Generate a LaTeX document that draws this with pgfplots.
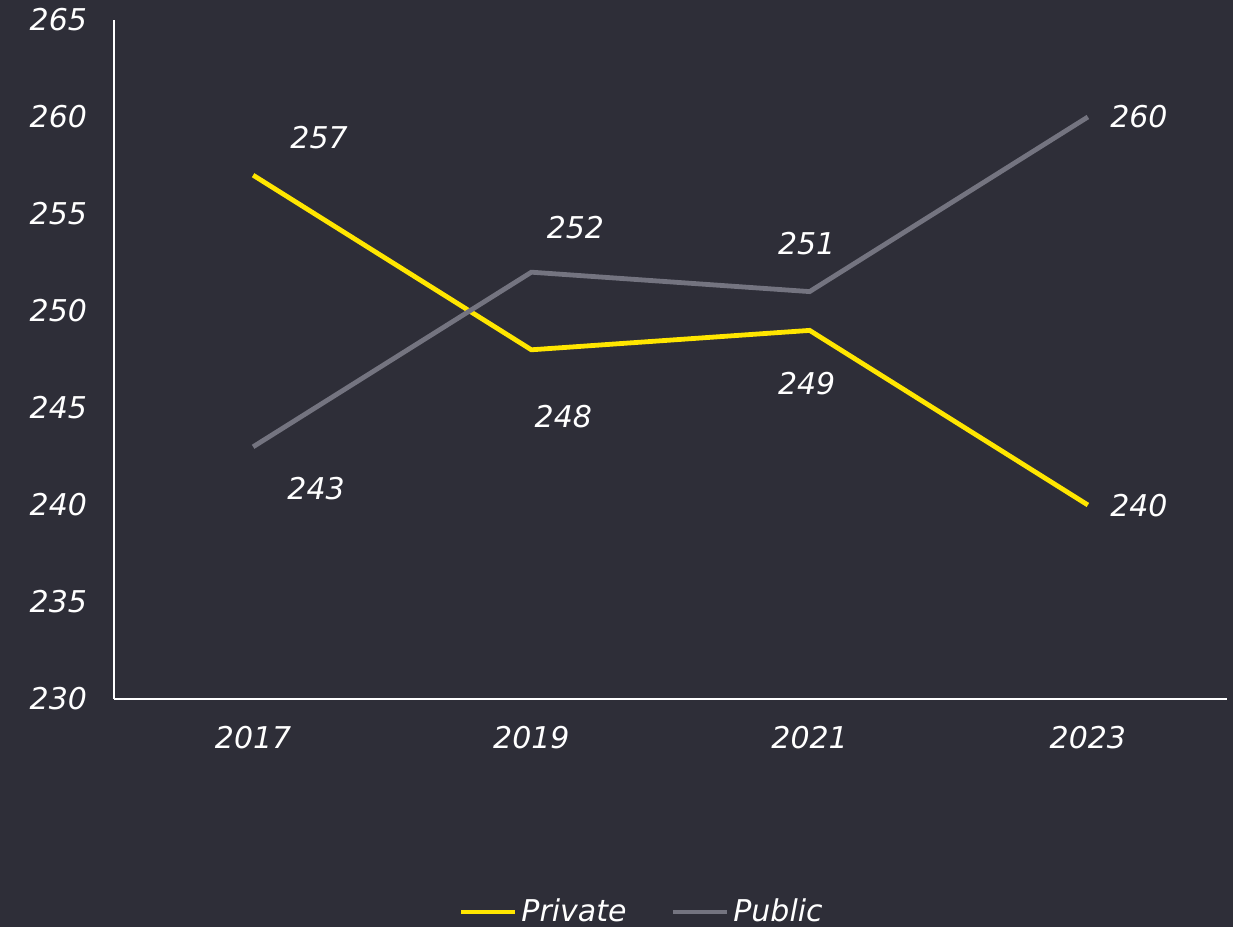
\documentclass[border=0pt]{standalone}
\usepackage{fontspec}
\setmainfont{DejaVu Sans}
\usepackage{pgfplots}
\pgfplotsset{compat=1.18}
\usetikzlibrary{calc,backgrounds}

\definecolor{bgcol}{HTML}{2E2E38}
\definecolor{eyyellow}{HTML}{FFE600}
\definecolor{eygray}{HTML}{747480}

\begin{document}
\begin{tikzpicture}[font=\fontsize{15}{17}\selectfont\itshape]
\begin{axis}[
    name=ax,
    width=556.5pt, height=339.5pt,
    scale only axis,
    xmin=-0.5, xmax=3.5,
    ymin=230, ymax=265,
    xtick={0,1,2,3},
    xticklabels={2017,2019,2021,2023},
    ytick={230,235,...,265},
    axis x line*=bottom,
    axis y line*=left,
    axis line style={white, line width=0.6pt, -},
    major tick style={draw=none},
    tick label style={text=white, font=\fontsize{15}{17}\selectfont\itshape},
    /pgf/number format/assume math mode=true,
    yticklabel style={xshift=-10pt},
    xticklabel style={yshift=-10pt},
    clip=false,
    legend columns=2,
    legend style={
        at={(0.475,-0.3137)}, anchor=center,
        draw=none, fill=none,
        text=white,
        font=\fontsize{15}{17}\selectfont\itshape,
        /tikz/every even column/.append style={column sep=20pt},
    },
    legend image code/.code={
        \draw[#1, line width=2.4pt] (0pt,0pt) -- (27pt,0pt);
    },
    nodes near coords,
    point meta=explicit symbolic,
    visualization depends on={\thisrow{dx} \as \dx},
    visualization depends on={\thisrow{dy} \as \dy},
    every node near coord/.append style={
        anchor=center, text=white, xshift=\dx pt, yshift=\dy pt,
        font=\fontsize{15}{17}\selectfont\itshape,
    },
]
\addplot[eyyellow, line width=2.4pt] table[x=x, y=y, meta=lab] {
x y lab dx dy
0 257 257 33 19
1 248 248 16 -33.5
2 249 249 -1.5 -26.5
3 240 240 25.5 -0.5
};
\addlegendentry{Private}
\addplot[eygray, line width=2.4pt] table[x=x, y=y, meta=lab] {
x y lab dx dy
0 243 243 31.5 -21
1 252 252 22 22.5
2 251 251 -1.5 24
3 260 260 25.5 0
};
\addlegendentry{Public}
\end{axis}
\begin{scope}[on background layer]
\fill[bgcol] ($(ax.south west)+(-57pt,-114pt)$) rectangle ($(ax.north east)+(3pt,10pt)$);
\end{scope}
\end{tikzpicture}
\end{document}
